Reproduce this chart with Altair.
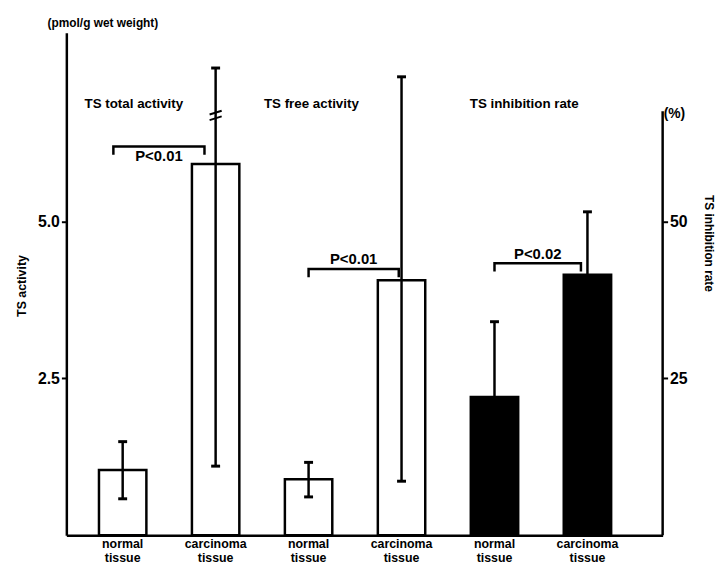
import altair as alt
import pandas as pd

# ---------------- data ----------------
group_titles = ["TS total activity", "TS free activity", "TS inhibition rate"]
tissue_labels = ["normal\ntissue", "carcinoma\ntissue", "normal\ntissue",
                 "carcinoma\ntissue", "normal\ntissue", "carcinoma\ntissue"]
bar_index = [0, 1, 2, 3, 4, 5]

# TS activity (pmol/g wet weight): total normal, total carcinoma, free normal, free carcinoma
activity_mean = [1.04, 5.91, 0.89, 4.06]
activity_low = [0.58, 1.10, 0.61, 0.86]
activity_high = [1.49, 7.44, 1.16, 7.30]   # carcinoma total bar drawn with a break
break_level = [6.70]                        # axis-break mark on carcinoma total SD

# TS inhibition rate (%): normal, carcinoma
inhib_mean = [22.0, 41.5]
inhib_low = [10.0, 31.5]
inhib_high = [34.0, 51.5]

p_labels = ["P<0.01", "P<0.01", "P<0.02"]
bracket_from = [-0.10, 2.00, 4.00]
bracket_to = [0.88, 2.97, 4.93]
bracket_level = [6.19, 4.24, 4.33]
p_side = [-1, 1, 1]   # -1 text below bracket, +1 above

left_ticks = [2.5, 5.0]
right_ticks = [25, 50]

# ---------------- tables ----------------
act_df = pd.DataFrame({"idx": bar_index[:4], "mean": activity_mean,
                       "low": activity_low, "high": activity_high})
inh_df = pd.DataFrame({"idx": bar_index[4:], "mean": inhib_mean,
                       "low": inhib_low, "high": inhib_high})
lab_df = pd.DataFrame({"idx": bar_index, "label": tissue_labels})
brk_df = pd.DataFrame({"idx": [1], "level": break_level})

rows = []
for b, (f, t, lv) in enumerate(zip(bracket_from, bracket_to, bracket_level)):
    leg = 0.13
    for o, (xx, yy) in enumerate([(f, lv - leg), (f, lv), (t, lv), (t, lv - leg)]):
        rows.append({"bid": b, "ord": o, "x": xx, "y": yy})
br_df = pd.DataFrame(rows)
p_df = pd.DataFrame({"x": [(f + t) / 2 for f, t in zip(bracket_from, bracket_to)],
                     "y": [lv + s * 0.15 for lv, s in zip(bracket_level, p_side)],
                     "label": p_labels})
title_df = pd.DataFrame({"x": [0.12, 2.03, 4.32], "label": group_titles})

FONT = "Liberation Sans"
W, H = 603, 508
xs = alt.Scale(domain=[-0.606, 5.809], nice=False, zero=False)
ys_l = alt.Scale(domain=[0, 8], nice=False, zero=True)
ys_r = alt.Scale(domain=[0, 80], nice=False, zero=True)
HW = 0.255   # bar half-width (index units)
CAP = 0.048
SW = 2.5

x_axis = alt.Axis(title=None, labels=False, ticks=False, grid=False, domain=True,
                  domainColor="black", domainWidth=SW, orient="bottom")
left_axis = alt.Axis(title=None, values=left_ticks, format=".1f", grid=False,
                     domain=True, domainColor="black", domainWidth=SW, orient="left",
                     ticks=True, tickSize=5, tickWidth=2, tickColor="black",
                     labelFont=FONT, labelFontWeight="bold", labelFontSize=16,
                     labelColor="black", labelPadding=2)
right_axis = alt.Axis(title=None, orient="right", values=right_ticks, format="d",
                      grid=False, domain=False, ticks=True, tickSize=5, tickWidth=2,
                      tickColor="black", labelFont=FONT, labelFontWeight="bold",
                      labelFontSize=16, labelColor="black", labelPadding=2)


def XQ(field):
    return alt.X(field, scale=xs, axis=x_axis)


def YL(field):
    return alt.Y(field, scale=ys_l, axis=left_axis)


def YR(field):
    return alt.Y(field, scale=ys_r, axis=right_axis)


# ---------------- left-scale layers ----------------
white_bars = alt.Chart(act_df).transform_calculate(
    x0=f"datum.idx - {HW}", x1=f"datum.idx + {HW}"
).mark_bar(fill="white", stroke="black", strokeWidth=SW).encode(
    x=XQ("x0:Q"), x2="x1:Q",
    y=YL("mean:Q"), y2=alt.datum(0),
)
act_err = alt.Chart(act_df).mark_rule(color="black", strokeWidth=SW).encode(
    x=XQ("idx:Q"), y=YL("low:Q"), y2="high:Q",
)
act_caps = alt.Chart(act_df).transform_fold(["low", "high"], as_=["end", "v"]).transform_calculate(
    c0=f"datum.idx - {CAP}", c1=f"datum.idx + {CAP}"
).mark_rule(color="black", strokeWidth=SW + 0.5).encode(
    x=XQ("c0:Q"), x2="c1:Q", y=YL("v:Q"),
)
brk1 = alt.Chart(brk_df).transform_calculate(
    a0="datum.idx - 0.065", a1="datum.idx + 0.065",
    b0="datum.level - 0.09", b1="datum.level - 0.03"
).mark_rule(color="black", strokeWidth=2).encode(
    x=XQ("a0:Q"), x2="a1:Q", y=YL("b0:Q"), y2="b1:Q",
)
brk2 = alt.Chart(brk_df).transform_calculate(
    a0="datum.idx - 0.065", a1="datum.idx + 0.065",
    b0="datum.level + 0.0", b1="datum.level + 0.06"
).mark_rule(color="black", strokeWidth=2).encode(
    x=XQ("a0:Q"), x2="a1:Q", y=YL("b0:Q"), y2="b1:Q",
)
brackets = alt.Chart(br_df).mark_line(color="black", strokeWidth=SW).encode(
    x=XQ("x:Q"), y=YL("y:Q"), detail="bid:N", order="ord:Q",
)
p_text = alt.Chart(p_df).mark_text(font=FONT, fontWeight="bold", fontSize=15,
                                   baseline="middle", align="center", color="black").encode(
    x=XQ("x:Q"), y=YL("y:Q"), text="label:N",
)
titles = alt.Chart(title_df).mark_text(font=FONT, fontWeight="bold", fontSize=13.5,
                                       baseline="middle", align="center", color="black").encode(
    x=XQ("x:Q"), y=alt.value(72), text="label:N",
)
x_labels = alt.Chart(lab_df).mark_text(font=FONT, fontWeight="bold", fontSize=12.5,
                                       baseline="top", align="center", lineBreak="\n",
                                       lineHeight=14, color="black").encode(
    x=XQ("idx:Q"), y=alt.value(511), text="label:N",
)
unit_left = alt.Chart(pd.DataFrame({"t": ["(pmol/g wet weight)"]})).mark_text(
    font=FONT, fontWeight="bold", fontSize=12, align="center", baseline="middle",
    color="black").encode(x=alt.value(37), y=alt.value(-10), text="t:N")
ytitle_left = alt.Chart(pd.DataFrame({"t": ["TS activity"]})).mark_text(
    font=FONT, fontWeight="bold", fontSize=12.5, angle=270, align="center",
    baseline="middle", color="black").encode(
    x=alt.value(-45), y=alt.value(256), text="t:N")

left = alt.layer(white_bars, act_err, act_caps, brk1, brk2, brackets, p_text,
                 titles, x_labels, unit_left, ytitle_left)

# ---------------- right-scale layers ----------------
black_bars = alt.Chart(inh_df).transform_calculate(
    x0=f"datum.idx - {HW}", x1=f"datum.idx + {HW}"
).mark_bar(fill="black", stroke="black", strokeWidth=SW).encode(
    x=XQ("x0:Q"), x2="x1:Q",
    y=YR("mean:Q"), y2=alt.datum(0),
)
inh_err = alt.Chart(inh_df).mark_rule(color="black", strokeWidth=SW).encode(
    x=XQ("idx:Q"), y=YR("low:Q"), y2="high:Q",
)
inh_caps = alt.Chart(inh_df).transform_calculate(
    c0=f"datum.idx - {CAP}", c1=f"datum.idx + {CAP}"
).mark_rule(color="black", strokeWidth=SW + 0.5).encode(
    x=XQ("c0:Q"), x2="c1:Q", y=YR("high:Q"),
)
raxis_line = alt.Chart(pd.DataFrame({"y0": [0], "y1": [67.5]})).mark_rule(
    color="black", strokeWidth=SW).encode(
    x=alt.value(W), y=YR("y0:Q"), y2="y1:Q",
)
unit_right = alt.Chart(pd.DataFrame({"t": ["(%)"]})).mark_text(
    font=FONT, fontWeight="bold", fontSize=14, align="left", baseline="middle",
    color="black").encode(x=alt.value(W + 1), y=alt.value(82), text="t:N")
ytitle_right = alt.Chart(pd.DataFrame({"t": ["TS inhibition rate"]})).mark_text(
    font=FONT, fontWeight="bold", fontSize=12, angle=90, align="center",
    baseline="middle", color="black").encode(
    x=alt.value(650), y=alt.value(213), text="t:N")

right = alt.layer(black_bars, inh_err, inh_caps, raxis_line, unit_right, ytitle_right)

chart = alt.layer(left, right).resolve_scale(y="independent").properties(
    width=W, height=H,
    padding={"left": 59, "top": 22, "right": 58, "bottom": 28},
    autosize=alt.AutoSizeParams(type="none"),
    background="white",
).configure_view(stroke=None)

chart.save("out.html", embed_options={"renderer": "svg", "actions": False})
